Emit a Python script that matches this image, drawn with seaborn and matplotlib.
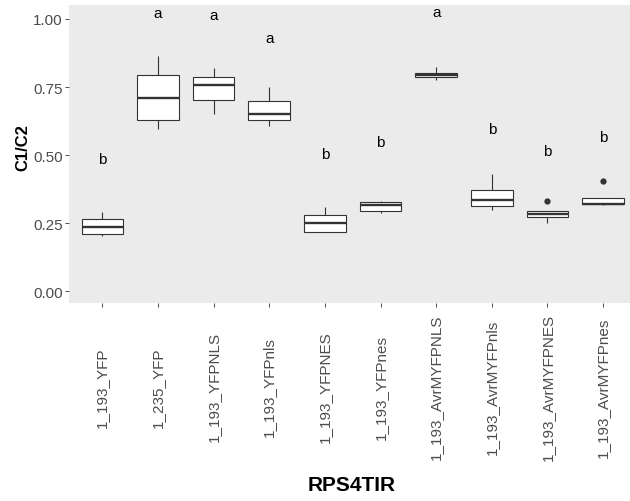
import pandas as pd
import matplotlib
matplotlib.use("Agg")
import matplotlib.pyplot as plt
import seaborn as sns

groups = ["1_193_YFP", "1_235_YFP", "1_193_YFPNLS", "1_193_YFPnls", "1_193_YFPNES",
          "1_193_YFPnes", "1_193_AvrMYFPNLS", "1_193_AvrMYFPnls", "1_193_AvrMYFPNES",
          "1_193_AvrMYFPnes"]
yfp_193 = [0.202, 0.210, 0.237, 0.264, 0.291]
yfp_235 = [0.596, 0.629, 0.709, 0.793, 0.864]
yfp_NLS = [0.651, 0.703, 0.758, 0.787, 0.820]
yfp_nls = [0.608, 0.630, 0.651, 0.700, 0.751]
yfp_NES = [0.216, 0.219, 0.250, 0.280, 0.310]
yfp_nes = [0.286, 0.295, 0.316, 0.329, 0.332]
avr_NLS = [0.776, 0.787, 0.795, 0.803, 0.823]
avr_nls = [0.297, 0.314, 0.336, 0.371, 0.431]
avr_NES = [0.252, 0.262, 0.272, 0.278, 0.283, 0.289, 0.295, 0.295, 0.332]
avr_nes = [0.316, 0.318, 0.320, 0.321, 0.322, 0.330, 0.343, 0.343, 0.405]
letters = ["b", "a", "a", "a", "b", "b", "a", "b", "b", "b"]
letter_y = [0.471, 1.006, 1.000, 0.914, 0.488, 0.535, 1.010, 0.580, 0.502, 0.551]

series = [yfp_193, yfp_235, yfp_NLS, yfp_nls, yfp_NES,
          yfp_nes, avr_NLS, avr_nls, avr_NES, avr_nes]
df = pd.DataFrame({
    "RPS4TIR": [g for g, vals in zip(groups, series) for _ in vals],
    "C1/C2": [v for vals in series for v in vals],
})

sns.set_style("white")
plt.rcParams["font.family"] = ["Liberation Sans", "DejaVu Sans"]

fig = plt.figure(figsize=(6.3, 5.02), dpi=100)
# panel runs past the right edge as in the reference
ax = fig.add_axes([69 / 630, 198 / 502, 567.4 / 630, 298.3 / 502])
ax.set_facecolor("#EBEBEB")

sns.boxplot(data=df, x="RPS4TIR", y="C1/C2", order=groups, ax=ax,
            width=0.75, color="white", linecolor="#333333", linewidth=0.8,
            showcaps=False,
            medianprops=dict(linewidth=1.7, color="#333333"),
            flierprops=dict(marker="o", markersize=3.5, markerfacecolor="#333333",
                            markeredgecolor="#333333"))

for i, (lab, yv) in enumerate(zip(letters, letter_y)):
    ax.text(i, yv, lab, ha="center", va="baseline", fontsize=11, color="black")

ax.set_xlim(-0.6, 9.6)
ax.set_ylim(-0.043, 1.0525)
ax.set_yticks([0, 0.25, 0.5, 0.75, 1.0])
ax.set_yticklabels(["0.00", "0.25", "0.50", "0.75", "1.00"])
for s in ax.spines.values():
    s.set_visible(False)

ax.tick_params(axis="y", left=True, length=3, width=0.6, color="#333333", pad=1.5,
               labelsize=11, labelcolor="#4D4D4D")
ax.tick_params(axis="x", bottom=True, length=3, width=0.6, color="#333333", pad=57,
               labelsize=11, labelcolor="#4D4D4D", labelrotation=90)
plt.setp(ax.get_xticklabels(), va="center", ha="center")

ax.set_xlabel("RPS4TIR", fontsize=15, fontweight="bold", color="black", va="center")
ax.set_ylabel("C1/C2", fontsize=12, fontweight="bold", color="black", va="center")
ax.xaxis.set_label_coords((351.7 - 69) / 567.4, (304 - 486) / 298.3)
ax.yaxis.set_label_coords((22.5 - 69) / 567.4, (304 - 148) / 298.3)

plt.savefig("out.png", dpi=100)
